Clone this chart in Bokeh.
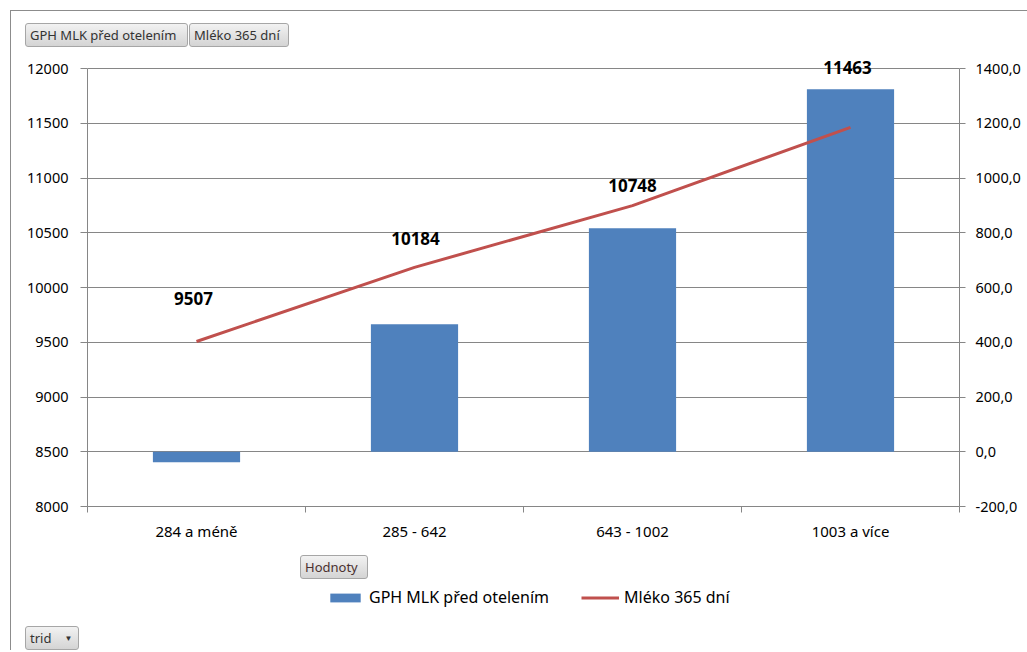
from bokeh.plotting import figure
from bokeh.models import (Range1d, LinearAxis, FixedTicker, ColumnDataSource,
                          Legend, LegendItem, Div)
from bokeh.layouts import column, row
from bokeh.core.properties import value
from bokeh.embed import file_html
from bokeh.resources import INLINE

categories = ["284 a méně", "285 - 642", "643 - 1002", "1003 a více"]
gph_mlk = [-38, 466, 816, 1324]          # bars, right axis
mleko_365 = [9507, 10184, 10748, 11463]  # line, left axis
left_ticks = [8000, 8500, 9000, 9500, 10000, 10500, 11000, 11500, 12000]
right_ticks = [-200, 0, 200, 400, 600, 800, 1000, 1200, 1400]
right_labels = ["-200,0", "0,0", "200,0", "400,0", "600,0", "800,0", "1000,0", "1200,0", "1400,0"]
series_names = ["GPH MLK před otelením", "Mléko 365 dní"]
label_dy = [-43, -29, -20, -60]
label_dx = [-3, 1, 0, -3]

FONT = "Noto Sans"
GRID = "#868686"
BAR = "#4F81BD"
LINE = "#C0504D"

L0, L1 = left_ticks[0], left_ticks[-1]
R0, R1 = right_ticks[0], right_ticks[-1]
AXIS_PX = 438     # pixel height of the axis span
EXTRA_PX = 18     # empty room above the top tick (keeps top data label unclipped)
l_top = L1 + (L1 - L0) * EXTRA_PX / AXIS_PX
r_top = R1 + (R1 - R0) * EXTRA_PX / AXIS_PX

xs = [i + 0.5 for i in range(len(categories))]

p = figure(width=1016, height=498, output_backend="svg", toolbar_location=None,
           x_range=Range1d(0, len(categories)), y_range=Range1d(L0, l_top),
           min_border_left=76, min_border_right=68, min_border_top=3, min_border_bottom=39,
           margin=0)
p.outline_line_color = None
p.background_fill_color = "white"
p.border_fill_color = "white"
p.extra_y_ranges = {"right": Range1d(R0, r_top)}

src = ColumnDataSource(dict(x=xs, bar=gph_mlk, line=mleko_365,
                            txt=[str(v) for v in mleko_365], dy=label_dy, dx=label_dx))

bars = p.vbar(x="x", top="bar", bottom=0, width=0.4, source=src, y_range_name="right",
              fill_color=BAR, line_color=None)
ln = p.line(x="x", y="line", source=src, line_color=LINE, line_width=3, line_join="round")
p.text(x="x", y="line", text="txt", source=src, x_offset="dx", y_offset="dy",
       text_align="center", text_baseline="middle", text_font=value(FONT),
       text_font_size="17px", text_font_style="bold", text_color="#000000")

# axes
p.xaxis.ticker = FixedTicker(ticks=xs, minor_ticks=list(range(len(categories) + 1)))
p.xaxis.major_label_overrides = {x: c for x, c in zip(xs, categories)}
p.xaxis.major_tick_out = 0
p.xaxis.major_tick_in = 0
p.xaxis.minor_tick_out = 6
p.xaxis.minor_tick_in = 0
p.xaxis.major_label_standoff = 8

p.yaxis.ticker = FixedTicker(ticks=left_ticks)
p.yaxis.bounds = (L0, L1)
p.yaxis.major_tick_out = 7
p.yaxis.major_tick_in = 0
p.yaxis.minor_tick_out = 0
p.yaxis.minor_tick_in = 0
p.yaxis.major_label_standoff = 12

raxis = LinearAxis(y_range_name="right", ticker=FixedTicker(ticks=right_ticks),
                   major_label_overrides={t: l for t, l in zip(right_ticks, right_labels)},
                   bounds=(R0, R1))
raxis.major_tick_out = 6
raxis.major_tick_in = 0
raxis.minor_tick_out = 0
raxis.minor_tick_in = 0
raxis.major_label_standoff = 10
p.add_layout(raxis, "right")

for ax in [p.xaxis[0], p.yaxis[0], raxis]:
    ax.axis_line_color = GRID
    ax.major_tick_line_color = GRID
    ax.minor_tick_line_color = GRID
    ax.major_label_text_font = FONT
    ax.major_label_text_font_size = "15px"
    ax.major_label_text_color = "#000000"
p.yaxis.major_label_text_font_size = "14.5px"

p.xgrid.visible = False
p.ygrid.grid_line_color = GRID
p.ygrid.ticker = FixedTicker(ticks=left_ticks)

# legend strip: a small plot carrying the same series glyphs (hidden there),
# so that the legend shows their swatches
pl = figure(width=1016, height=34, output_backend="svg", toolbar_location=None,
            x_axis_location=None, y_axis_location=None, min_border=0, margin=0,
            x_range=Range1d(0, len(categories)), y_range=Range1d(-5000, -4000))
pl.outline_line_color = None
pl.grid.visible = False
lb = pl.vbar(x="x", top="bar", bottom=0, width=0.4, source=src,
             fill_color=BAR, line_color=None, visible=False)
ll = pl.line(x="x", y="line", source=src, line_color=LINE, line_width=3, visible=False)
legend = Legend(items=[LegendItem(label=series_names[0], renderers=[lb]),
                       LegendItem(label=series_names[1], renderers=[ll])],
                orientation="horizontal", location=(239, 5),
                glyph_width=38, glyph_height=11, label_height=20,
                label_standoff=5, spacing=32, padding=0, margin=0,
                border_line_color=None, background_fill_alpha=0,
                label_text_font=FONT, label_text_font_size="16px",
                label_text_color="#000000")
pl.add_layout(legend, "center")

# Excel pivot field buttons
BTN_STYLE = {"background": "linear-gradient(#f2f2f2, #d4d4d4)", "border": "1px solid #a6a6a6",
             "border-radius": "3px", "font-family": FONT, "font-size": "13px",
             "color": "#333333", "line-height": "22px", "padding-left": "4px",
             "box-sizing": "border-box", "white-space": "nowrap", "overflow": "hidden"}
b1 = Div(text=series_names[0], width=163, height=24, margin=0, styles=BTN_STYLE)
b2 = Div(text=series_names[1], width=100, height=24, margin=(0, 0, 0, 1), styles=BTN_STYLE)
top = row(b1, b2, margin=(12, 0, 0, 14), spacing=0)

hod = Div(text="Hodnoty", width=68, height=24, margin=(10, 0, 0, 289),
          styles=dict(BTN_STYLE, color="#4a3030"))
trid = Div(text='trid<span style="display:inline-block;margin-left:13px;font-size:8px;'
                'vertical-align:top">&#9660;</span>',
           width=54, height=24, margin=(13, 0, 0, 14), styles=BTN_STYLE)

layout = column(top, p, hod, pl, trid, margin=(10, 0, 0, 10), spacing=0,
                styles={"border-top": "1px solid #8c8c8c", "border-left": "1px solid #8c8c8c"})

open("out.html", "w").write(file_html(layout, INLINE))
